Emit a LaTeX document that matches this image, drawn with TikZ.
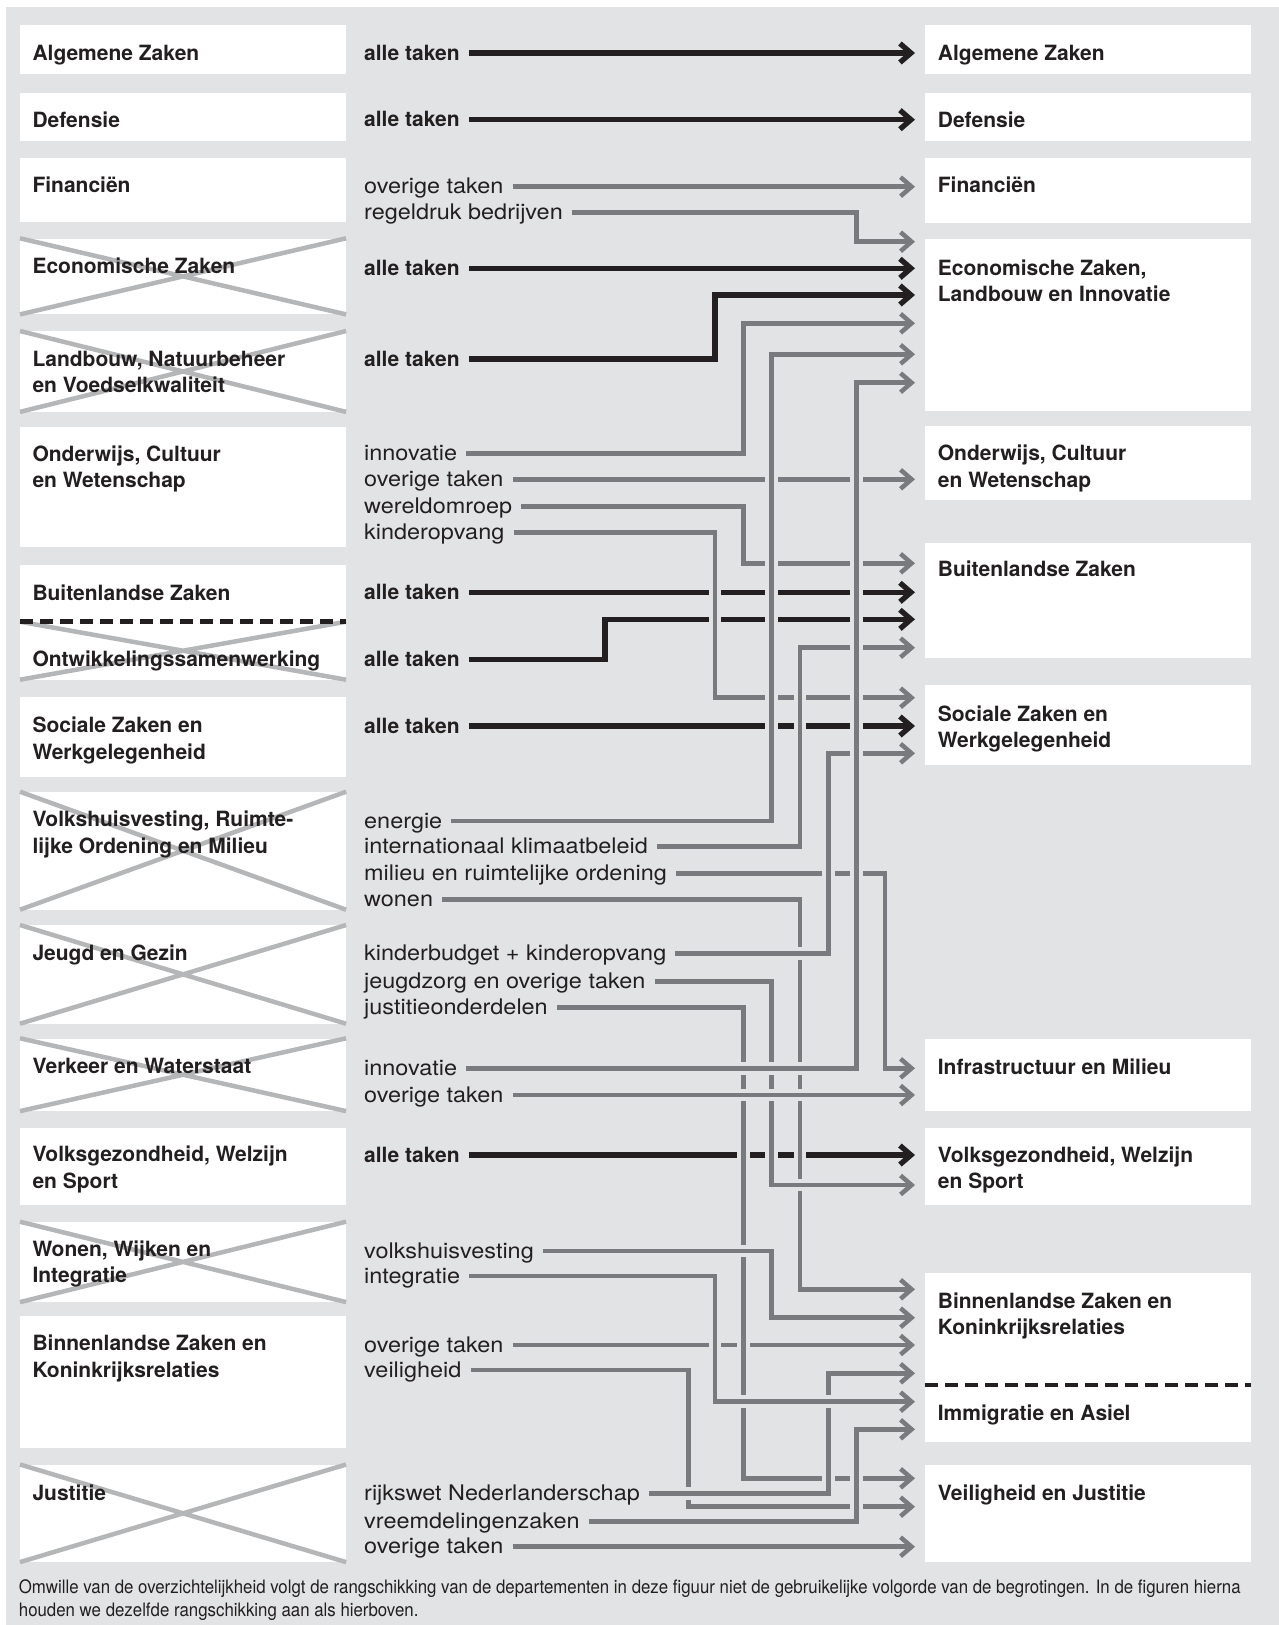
\documentclass[tikz,border=0pt]{standalone}
\usepackage{fontspec}
\setmainfont{TeX Gyre Heros}
\newfontfamily\labfont[FakeStretch=1.09]{TeX Gyre Heros}
\newfontfamily\notefont[FakeStretch=0.91]{TeX Gyre Heros}
\usepackage{tikz}
\usetikzlibrary{arrows.meta}
\definecolor{panel}{HTML}{E2E3E5}
\definecolor{linegray}{HTML}{797A7D}
\definecolor{crossgray}{HTML}{B5B6B8}
\definecolor{ink}{HTML}{231F20}

% a flow line, first cut out of what lies below it
\newcommand{\flowline}[2]{%
  \draw[#1, halo] #2;
  \draw[#1] #2;}

\begin{document}
\begin{tikzpicture}[x=1pt, y=-1pt,
    lbox/.style={rectangle, fill=white, anchor=north west, inner sep=0pt, minimum width=325.7pt},
    dept/.style={anchor=base west, align=left, inner sep=0pt, text=ink, font=\bfseries\fontsize{21}{26.5}\selectfont},
    dept2/.style={dept, yshift=-26.5pt},
    task/.style={anchor=west, inner sep=0pt, text height=14pt, text depth=0pt, text=ink, font=\labfont\fontsize{21.5}{26}\selectfont},
    alltask/.style={task, font=\bfseries\fontsize{21}{26}\selectfont},
    note/.style={anchor=base west, align=left, inner sep=0pt, text=ink, font=\notefont\fontsize{18.5}{23.5}\selectfont},
    cross/.style={draw=crossgray, line width=4.5pt},
    sep/.style={draw=ink, line width=4.5pt, dash pattern=on 12.5pt off 7.5pt},
    gline/.style={draw=linegray, line width=4.5pt, shorten <=9pt, shorten >=10pt, -{Straight Barb[length=11pt, width=19pt, sharp]}},
    bline/.style={gline, draw=ink, line width=5.3pt},
    halo/.style={draw=panel, line width=12.5pt, arrows=-}
]
\useasboundingbox (0,0) rectangle (1279,1625);
\fill[panel] (6,7) rectangle (1279,1625);

% Old departments
\node[lbox, minimum height=48.3pt] (lAZ) at (20,25) {};
\node[lbox, minimum height=48.7pt] (lDef) at (20,92.3) {};
\node[lbox, minimum height=64pt] (lFin) at (20,157.7) {};
\node[lbox, minimum height=75.7pt] (lEZ) at (20,238.3) {};
\node[lbox, minimum height=80.5pt] (lLNV) at (20,331) {};
\node[lbox, minimum height=120pt] (lOCW) at (20,427) {};
\node[lbox, minimum height=56.7pt] (lBZ) at (20,565) {};
\node[lbox, minimum height=57.6pt] (lOS) at (20,621.7) {};
\node[lbox, minimum height=80pt] (lSZW) at (20,696.7) {};
\node[lbox, minimum height=117.6pt] (lVROM) at (20,791.7) {};
\node[lbox, minimum height=98.3pt] (lJG) at (20,925) {};
\node[lbox, minimum height=72.4pt] (lVW) at (20,1038.3) {};
\node[lbox, minimum height=77pt] (lVWS) at (20,1127.3) {};
\node[lbox, minimum height=80pt] (lWWI) at (20,1221.7) {};
\node[lbox, minimum height=131.7pt] (lBZK) at (20,1316) {};
\node[lbox, minimum height=97.2pt] (lJus) at (20,1464.5) {};

% Crossed out
\draw[cross] (lEZ.north west) -- (lEZ.south east) (lEZ.south west) -- (lEZ.north east);
\draw[cross] (lLNV.north west) -- (lLNV.south east) (lLNV.south west) -- (lLNV.north east);
\draw[cross] (lOS.north west) -- (lOS.south east) (lOS.south west) -- (lOS.north east);
\draw[cross] (lVROM.north west) -- (lVROM.south east) (lVROM.south west) -- (lVROM.north east);
\draw[cross] (lJG.north west) -- (lJG.south east) (lJG.south west) -- (lJG.north east);
\draw[cross] (lVW.north west) -- (lVW.south east) (lVW.south west) -- (lVW.north east);
\draw[cross] (lWWI.north west) -- (lWWI.south east) (lWWI.south west) -- (lWWI.north east);
\draw[cross] (lJus.north west) -- (lJus.south east) (lJus.south west) -- (lJus.north east);
\draw[sep] (lOS.north west) -- (lOS.north east);

\node[dept] (lAZt) at ([shift={(12.3,35)}]lAZ.north west) {Algemene Zaken};
\node[dept] (lDeft) at ([shift={(12.3,35)}]lDef.north west) {Defensie};
\node[dept] (lFint) at ([shift={(12.3,35)}]lFin.north west) {Financiën};
\node[dept] (lEZt) at ([shift={(12.3,35)}]lEZ.north west) {Economische Zaken};
\node[dept2] (lLNVt) at ([shift={(12.3,35)}]lLNV.north west) {Landbouw, Natuurbeheer\\en Voedselkwaliteit};
\node[dept2] (lOCWt) at ([shift={(12.3,34)}]lOCW.north west) {Onderwijs, Cultuur\\en Wetenschap};
\node[dept] (lBZt) at ([shift={(12.3,35)}]lBZ.north west) {Buitenlandse Zaken};
\node[dept] (lOSt) at ([shift={(12.3,44.3)}]lOS.north west) {Ontwikkelingssamenwerking};
\node[dept2] (lSZWt) at ([shift={(12.3,36)}]lSZW.north west) {Sociale Zaken en\\Werkgelegenheid};
\node[dept2] (lVROMt) at ([shift={(12.3,35)}]lVROM.north west) {Volkshuisvesting, Ruimte-\\lijke Ordening en Milieu};
\node[dept] (lJGt) at ([shift={(12.3,35)}]lJG.north west) {Jeugd en Gezin};
\node[dept] (lVWt) at ([shift={(12.3,35)}]lVW.north west) {Verkeer en Waterstaat};
\node[dept2] (lVWSt) at ([shift={(12.3,34.5)}]lVWS.north west) {Volksgezondheid, Welzijn\\en Sport};
\node[dept2] (lWWIt) at ([shift={(12.3,34.5)}]lWWI.north west) {Wonen, Wijken en\\Integratie};
\node[dept2] (lBZKt) at ([shift={(12.3,34.5)}]lBZK.north west) {Binnenlandse Zaken en\\Koninkrijksrelaties};
\node[dept] (lJust) at ([shift={(12.3,35.5)}]lJus.north west) {Justitie};

% New departments
\node[lbox, minimum height=48.3pt] (rAZ) at (925,25) {};
\node[lbox, minimum height=48.7pt] (rDef) at (925,92.3) {};
\node[lbox, minimum height=64.6pt] (rFin) at (925,157.7) {};
\node[lbox, minimum height=171.7pt] (rEZLI) at (925,239) {};
\node[lbox, minimum height=73.3pt] (rOCW) at (925,426) {};
\node[lbox, minimum height=115pt] (rBZ) at (925,542.3) {};
\node[lbox, minimum height=79.3pt] (rSZW) at (925,685) {};
\node[lbox, minimum height=72pt] (rIM) at (925,1038.3) {};
\node[lbox, minimum height=77pt] (rVWS) at (925,1127.3) {};
\node[lbox, minimum height=112.3pt] (rBZK) at (925,1272.7) {};
\node[lbox, minimum height=56.7pt] (rIA) at (925,1385) {};
\node[lbox, minimum height=96.7pt] (rVJ) at (925,1465) {};
\draw[sep] (rIA.north west) -- (rIA.north east);

\node[dept] (rAZt) at ([shift={(12.7,35)}]rAZ.north west) {Algemene Zaken};
\node[dept] (rDeft) at ([shift={(12.7,35)}]rDef.north west) {Defensie};
\node[dept] (rFint) at ([shift={(12.7,35)}]rFin.north west) {Financiën};
\node[dept2] (rEZLIt) at ([shift={(12.7,36)}]rEZLI.north west) {Economische Zaken,\\Landbouw en Innovatie};
\node[dept2] (rOCWt) at ([shift={(12.7,34.5)}]rOCW.north west) {Onderwijs, Cultuur\\en Wetenschap};
\node[dept] (rBZt) at ([shift={(12.7,34.5)}]rBZ.north west) {Buitenlandse Zaken};
\node[dept2] (rSZWt) at ([shift={(12.7,36)}]rSZW.north west) {Sociale Zaken en\\Werkgelegenheid};
\node[dept] (rIMt) at ([shift={(12.7,36)}]rIM.north west) {Infrastructuur en Milieu};
\node[dept2] (rVWSt) at ([shift={(12.7,35)}]rVWS.north west) {Volksgezondheid, Welzijn\\en Sport};
\node[dept2] (rBZKt) at ([shift={(12.7,35.5)}]rBZK.north west) {Binnenlandse Zaken en\\Koninkrijksrelaties};
\node[dept] (rIAt) at ([shift={(12.7,35)}]rIA.north west) {Immigratie en Asiel};
\node[dept] (rVJt) at ([shift={(12.7,35)}]rVJ.north west) {Veiligheid en Justitie};

% Tasks
\node[alltask] (tAZ) at (364,53) {alle taken};
\node[alltask] (tDef) at (364,119.7) {alle taken};
\node[task] (tFin1) at (364,186.7) {overige taken};
\node[task] (tFin2) at (364,212.3) {regeldruk bedrijven};
\node[alltask] (tEZ) at (364,268.3) {alle taken};
\node[alltask] (tLNV) at (364,359) {alle taken};
\node[task] (tOCW1) at (364,453.3) {innovatie};
\node[task] (tOCW2) at (364,479.3) {overige taken};
\node[task] (tOCW3) at (364,506.7) {wereldomroep};
\node[task] (tOCW4) at (364,532.7) {kinderopvang};
\node[alltask] (tBZ) at (364,592.3) {alle taken};
\node[alltask] (tOS) at (364,659.3) {alle taken};
\node[alltask] (tSZW) at (364,726) {alle taken};
\node[task] (tVROM1) at (364,821) {energie};
\node[task] (tVROM2) at (364,846.7) {internationaal klimaatbeleid};
\node[task] (tVROM3) at (364,873.3) {milieu en ruimtelijke ordening};
\node[task] (tVROM4) at (364,899.3) {wonen};
\node[task] (tJG1) at (364,953.3) {kinderbudget + kinderopvang};
\node[task] (tJG2) at (364,981.7) {jeugdzorg en overige taken};
\node[task] (tJG3) at (364,1007.7) {justitieonderdelen};
\node[task] (tVW1) at (364,1068.3) {innovatie};
\node[task] (tVW2) at (364,1095) {overige taken};
\node[alltask] (tVWS) at (364,1155) {alle taken};
\node[task] (tWWI1) at (364,1251) {volkshuisvesting};
\node[task] (tWWI2) at (364,1276) {integratie};
\node[task] (tBZK1) at (364,1345) {overige taken};
\node[task] (tBZK2) at (364,1370) {veiligheid};
\node[task] (tJus1) at (364,1493.3) {rijkswet Nederlanderschap};
\node[task] (tJus2) at (364,1521.7) {vreemdelingenzaken};
\node[task] (tJus3) at (364,1546.7) {overige taken};

% Flows without crossings
\draw[bline] (tAZ.east) -- (tAZ.east -| rAZ.west);
\draw[bline] (tDef.east) -- (tDef.east -| rDef.west);
\draw[gline] (tFin1.east) -- (tFin1.east -| rFin.west);
\draw[gline] (tFin2.east) -| (856.7,241.7) -- (rEZLI.west |- 0,241.7);
\draw[bline] (tEZ.east) -- (tEZ.east -| rEZLI.west);
\draw[bline] (tLNV.east) -| (715,295) -- (rEZLI.west |- 0,295);
\draw[gline] (tOCW1.east) -| (743.3,323.3) -- (rEZLI.west |- 0,323.3);
\draw[gline] (tJus3.east) -- (tJus3.east -| rVJ.west);

% Crossing flows, lowest first
\flowline{bline}{(tBZ.east) -- (tBZ.east -| rBZ.west)}
\flowline{bline}{(tOS.east) -| (605,619.3) -- (rBZ.west |- 0,619.3)}
\flowline{gline}{(tOCW2.east) -- (tOCW2.east -| rOCW.west)}
\flowline{gline}{(tOCW3.east) -| (743.3,563.3) -- (rBZ.west |- 0,563.3)}
\flowline{gline}{(tOCW4.east) -| (715,697.7) -- (rSZW.west |- 0,697.7)}
\flowline{bline}{(tSZW.east) -- (tSZW.east -| rSZW.west)}
\flowline{gline}{(tVROM1.east) -| (771.7,354.3) -- (rEZLI.west |- 0,354.3)}
\flowline{gline}{(tVROM2.east) -| (800,647.7) -- (rBZ.west |- 0,647.7)}
\flowline{gline}{(tVROM3.east) -| (885,1068.3) -- (rIM.west |- 0,1068.3)}
\flowline{bline}{(tVWS.east) -- (tVWS.east -| rVWS.west)}
\flowline{gline}{(tVROM4.east) -| (800,1289.3) -- (rBZK.west |- 0,1289.3)}
\flowline{gline}{(tJG1.east) -| (828.3,753.3) -- (rSZW.west |- 0,753.3)}
\flowline{gline}{(tJG2.east) -| (771.7,1185) -- (rVWS.west |- 0,1185)}
\flowline{gline}{(tBZK1.east) -- (tBZK1.east -| rBZK.west)}
\flowline{gline}{(tJG3.east) -| (743.3,1478.3) -- (rVJ.west |- 0,1478.3)}
\flowline{gline}{(tWWI1.east) -| (771.7,1317.7) -- (rBZK.west |- 0,1317.7)}
\flowline{gline}{(tBZK2.east) -| (688.3,1506.7) -- (rVJ.west |- 0,1506.7)}
\flowline{gline}{(tJus1.east) -| (828.3,1373.3) -- (rBZK.west |- 0,1373.3)}
\flowline{gline}{(tWWI2.east) -| (715,1401.7) -- (rIA.west |- 0,1401.7)}
\flowline{gline}{(tJus2.east) -| (856.7,1429.3) -- (rIA.west |- 0,1429.3)}
\flowline{gline}{(tVW2.east) -- (tVW2.east -| rIM.west)}
\flowline{gline}{(tVW1.east) -| (856.7,382.7) -- (rEZLI.west |- 0,382.7)}

% Footnote
\node[note] (fn) at (18.7,1616.5) {Omwille van de overzichtelijkheid volgt de rangschikking van de departementen in deze figuur niet de gebruikelijke volgorde van de begrotingen. In de figuren hierna\\houden we dezelfde rangschikking aan als hierboven.};

\end{tikzpicture}
\end{document}
